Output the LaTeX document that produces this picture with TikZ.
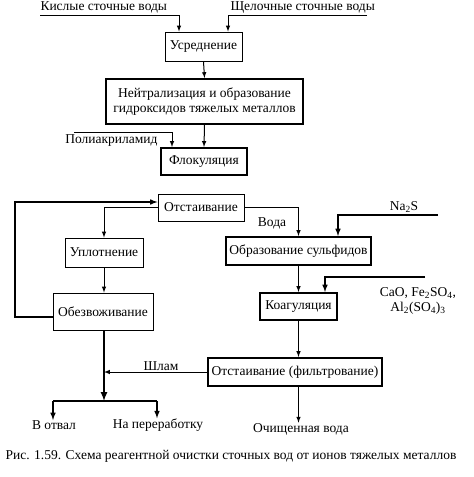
\documentclass[tikz,border=0pt]{standalone}
\usepackage{fontspec}
\setmainfont{Liberation Serif}
\usetikzlibrary{calc}
\tikzset{
  box/.style={draw, line width=1pt, inner sep=0pt, align=center},
  boxthick/.style={box, line width=2pt},
  lbl/.style={inner sep=0pt, align=center},
  >=latex
}
\begin{document}
\begin{tikzpicture}[x=1pt,y=-1pt,font=\fontsize{13.5}{15.5}\selectfont,line width=1pt]
	\useasboundingbox (0,0) rectangle (474,477);
	% boxes
	\node[box,minimum width=77pt,minimum height=29pt] (usr) at (203.5,46.5) {Усреднение};
	\node[boxthick,minimum width=197pt,minimum height=45pt] (neutr) at (204.5,101.5) {Нейтрализация и образование\\гидроксидов тяжелых металлов};
	\node[boxthick,minimum width=86pt,minimum height=27pt] (flok) at (204,161.5) {Флокуляция};
	\node[box,minimum width=86pt,minimum height=27pt] (otst) at (201,207.5) {Отстаивание};
	\node[box,minimum width=78pt,minimum height=29pt] (upl) at (104,252.5) {Уплотнение};
	\node[box,minimum width=100pt,minimum height=37pt] (obezv) at (103,311.5) {Обезвоживание};
	\node[boxthick,minimum width=145pt,minimum height=28pt] (sulf) at (298.5,251) {Образование сульфидов};
	\node[boxthick,minimum width=77pt,minimum height=27pt] (koag) at (298.5,306.5) {Коагуляция};
	\node[boxthick,minimum width=174pt,minimum height=28pt] (filtr) at (295,372) {Отстаивание (фильтрование)};
	% inputs and outputs
	\node[lbl,anchor=south west] (kisl) at (40,14) {Кислые сточные воды};
	\node[lbl,anchor=south west] (shel) at (230,14) {Щелочные сточные воды};
	\node[lbl] (poly) at (111.5,141) {Полиакриламид};
	\node[lbl] (na) at (404,207) {Na\textsubscript{2}S};
	\node[lbl] (reag) at (418,301) {CaO, Fe\textsubscript{2}SO\textsubscript{4},\\Al\textsubscript{2}(SO\textsubscript{4})\textsubscript{3}};
	\node[lbl] (voda) at (272,223) {Вода};
	\node[lbl] (shlam) at (161,366) {Шлам};
	\node[lbl] (vtval) at (54,425) {В отвал};
	\node[lbl] (pererab) at (158,425) {На переработку};
	\node[lbl] (ochish) at (301,429) {Очищенная вода};
	\node[lbl] (caption) at (231,456) {Рис. 1.59. Схема реагентной очистки сточных вод от ионов тяжелых металлов};
	% free ends
	\coordinate (kislEnd) at (179,15);
	\coordinate (shelEnd) at (367,15);
	\coordinate (polyIn) at (74,132);
	\coordinate (naIn) at (438,215);
	\coordinate (reagIn) at (425,277);
	\coordinate (loopTop) at (15,202);
	\coordinate (split) at (104,401);
	\coordinate (splitL) at (53,401);
	\coordinate (splitR) at (157,401);
	% connectors
	\draw[->] (40,15) -- (kislEnd) -- (kislEnd |- usr.north);
	\draw[->] (shelEnd) -- (228,15) -- (228,15 |- usr.north);
	\draw[->] (usr.south) -- (neutr.north);
	\draw[->] (neutr.south) -- (flok.north);
	\draw[->] (polyIn) -| ([xshift=-32pt]flok.north);
	\draw[->,line width=1.5pt] ([yshift=-5.5pt]obezv.west) -| (loopTop) -- ([yshift=5.5pt]otst.west);
	\draw[->] (otst.west) -| (upl.north);
	\draw[->] (otst.east) -| (sulf.north);
	\draw[->] (upl.south) -- (upl.south |- obezv.north);
	\draw[->,line width=1.5pt] (naIn) -| ([xshift=39.5pt]sulf.north);
	\draw[->] (sulf.south) -- (koag.north);
	\draw[->,line width=1.5pt] (reagIn) -| ([xshift=26.5pt]koag.north);
	\draw[->] (koag.south) -- (koag.south |- filtr.north);
	\draw[->] (koag.south |- filtr.south) -- (koag.south |- ochish.north);
	\draw[->] (filtr.west) -- (filtr.west -| split);
	\draw[->,line width=2pt] ([xshift=1pt]obezv.south) -- (split);
	\draw[line width=2pt] (splitL) -- (splitR);
	\draw[->,line width=1.5pt] (splitL) -- (splitL |- vtval.north);
	\draw[->,line width=1.5pt] (splitR) -- (splitR |- pererab.north);
\end{tikzpicture}
\end{document}
